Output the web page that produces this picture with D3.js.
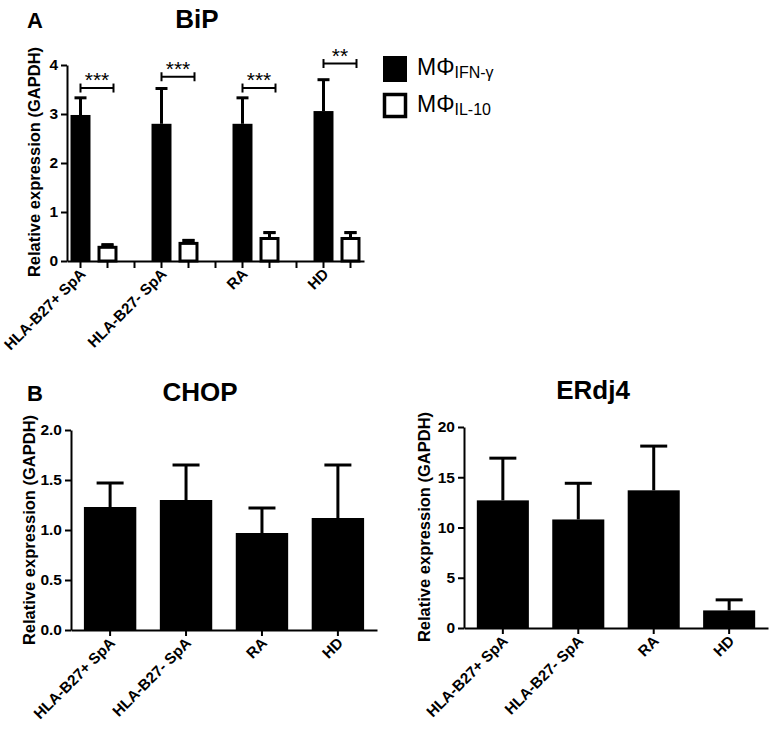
<!DOCTYPE html>
<html>
<head>
<meta charset="utf-8">
<script src="https://cdn.jsdelivr.net/npm/d3@7/dist/d3.min.js"></script>
<style>
  html, body { margin: 0; padding: 0; background: #fff; }
  svg { display: block; font-family: "Liberation Sans", Arial, sans-serif; }
</style>
</head>
<body>
<svg id="chart" width="777" height="736"></svg>
<script>
// ---------- DATA ----------
const categories = ["HLA-B27+ SpA", "HLA-B27- SpA", "RA", "HD"];
const seriesNames = ["IFN-γ", "IL-10"];

const bipIFN = [2.98, 2.80, 2.80, 3.06];
const bipIFNUpper = [3.33, 3.52, 3.33, 3.70];
const bipIL10 = [0.31, 0.39, 0.49, 0.49];
const bipIL10Upper = [0.33, 0.42, 0.58, 0.58];
const bipSig = ["***", "***", "***", "**"];
const bipSigLevel = [3.53, 3.76, 3.53, 4.03];
const bipTicks = [0, 1, 2, 3, 4];

const chopMean = [1.23, 1.30, 0.97, 1.12];
const chopUpper = [1.47, 1.65, 1.22, 1.65];
const chopTicks = [0, 0.5, 1.0, 1.5, 2.0];

const erdj4Mean = [12.7, 10.8, 13.7, 1.75];
const erdj4Upper = [16.9, 14.4, 18.1, 2.8];
const erdj4Ticks = [0, 5, 10, 15, 20];

const yLabel = "Relative expression (GAPDH)";

// ---------- HELPERS ----------
const FONT = '"Liberation Sans", Arial, sans-serif';
const svg = d3.select("#chart");
svg.append("rect").attr("width", 777).attr("height", 736).attr("fill", "#fff");

function styleAxis(g) {
  g.attr("font-family", FONT);
  g.select(".domain").attr("stroke", "#000").attr("stroke-width", 2);
  g.selectAll(".tick line").attr("stroke", "#000").attr("stroke-width", 2);
  g.selectAll(".tick text").attr("fill", "#000")
    .style("font-family", FONT)
    .style("font-weight", "bold").style("font-size", "15.5px");
}

function yAxis(y, x0, ticks, fmt) {
  const g = svg.append("g").attr("transform", `translate(${x0},0)`)
    .call(d3.axisLeft(y).tickValues(ticks).tickFormat(fmt).tickSize(6).tickSizeOuter(0).tickPadding(3));
  styleAxis(g);
  return g;
}

function yTitle(x, yMid) {
  svg.append("text")
    .attr("transform", `translate(${x},${yMid}) rotate(-90)`)
    .attr("text-anchor", "middle")
    .style("font-weight", "bold").style("font-size", "16.5px")
    .text(yLabel);
}

function xLabels(g) {
  g.selectAll(".tick text")
    .attr("text-anchor", "end")
    .attr("transform", "translate(6,14) rotate(-45)")
    .attr("dy", "0").attr("y", 0).attr("x", 0)
    .style("font-size", "15.2px");
}

function title(x, y, t) {
  svg.append("text").attr("x", x).attr("y", y).attr("text-anchor", "middle")
    .style("font-weight", "bold").style("font-size", "26px").text(t);
}
function panelLetter(x, y, t) {
  svg.append("text").attr("x", x).attr("y", y)
    .style("font-weight", "bold").style("font-size", "22px").text(t);
}

// ---------- PANEL A : BiP ----------
panelLetter(27, 28, "A");
title(197, 28, "BiP");

const aLeft = 67, aRight = 364, aTop = 65, aBottom = 261;
const yA = d3.scaleLinear().domain([0, 4]).range([aBottom, aTop]);
const slots = d3.range(11);
const xSlot = d3.scaleBand().domain(slots).range([aLeft, aRight]).padding(0);
const barWA = xSlot.bandwidth() * 0.74;
const slotOf = (g, s) => g * 3 + s;
const cx = (g, s) => xSlot(slotOf(g, s)) + xSlot.bandwidth() / 2;

const bipRows = categories.map((c, i) => ([
  { g: i, s: 0, v: bipIFN[i], up: bipIFNUpper[i] },
  { g: i, s: 1, v: bipIL10[i], up: bipIL10Upper[i] }
])).flat();

const errA = svg.append("g");
bipRows.forEach(d => {
  const x = cx(d.g, d.s);
  errA.append("line").attr("x1", x).attr("x2", x).attr("y1", yA(d.v)).attr("y2", yA(d.up))
    .attr("stroke", "#000").attr("stroke-width", 3);
  errA.append("line").attr("x1", x - 6).attr("x2", x + 6).attr("y1", yA(d.up)).attr("y2", yA(d.up))
    .attr("stroke", "#000").attr("stroke-width", 3);
});

svg.append("g").selectAll("rect").data(bipRows).join("rect")
  .attr("x", d => cx(d.g, d.s) - (d.s === 0 ? barWA / 2 : barWA / 2 - 1.5))
  .attr("width", d => d.s === 0 ? barWA : barWA - 3)
  .attr("y", d => yA(d.v) + (d.s === 0 ? 0 : 1.5))
  .attr("height", d => aBottom - yA(d.v) - (d.s === 0 ? 0 : 1.5))
  .attr("fill", d => d.s === 0 ? "#000" : "#fff")
  .attr("stroke", "#000").attr("stroke-width", d => d.s === 0 ? 0 : 3);

bipRows.filter(d => d.s === 1).forEach(d => {
  const x = cx(d.g, d.s);
  svg.append("line").attr("x1", x - 6).attr("x2", x + 6).attr("y1", yA(d.up)).attr("y2", yA(d.up))
    .attr("stroke", "#000").attr("stroke-width", 3);
  svg.append("line").attr("x1", x).attr("x2", x).attr("y1", yA(d.v)).attr("y2", yA(d.up))
    .attr("stroke", "#000").attr("stroke-width", 3);
});

categories.forEach((c, i) => {
  const x1 = cx(i, 0), x2 = cx(i, 1) + 6, y = yA(bipSigLevel[i]);
  const g = svg.append("g");
  g.append("line").attr("x1", x1).attr("x2", x2).attr("y1", y).attr("y2", y).attr("stroke", "#000").attr("stroke-width", 2);
  g.append("line").attr("x1", x1).attr("x2", x1).attr("y1", y - 4.5).attr("y2", y + 4.5).attr("stroke", "#000").attr("stroke-width", 2);
  g.append("line").attr("x1", x2).attr("x2", x2).attr("y1", y - 4.5).attr("y2", y + 4.5).attr("stroke", "#000").attr("stroke-width", 2);
  g.append("text").attr("x", (x1 + x2) / 2).attr("y", y - 1).attr("text-anchor", "middle")
    .style("font-size", "21px").text(bipSig[i]);
});

yAxis(yA, aLeft, bipTicks, d3.format("d"));
const xAxA = svg.append("g").attr("transform", `translate(0,${aBottom})`)
  .call(d3.axisBottom(xSlot).tickSize(7).tickSizeOuter(0)
    .tickFormat(s => s % 3 === 0 ? categories[s / 3] : ""));
styleAxis(xAxA);
xLabels(xAxA);
yTitle(40, 162);

// legend
const legend = svg.append("g");
const legY = [56, 93];
seriesNames.forEach((n, i) => {
  legend.append("rect").attr("x", i === 0 ? 383 : 384.5).attr("y", legY[i] + (i === 0 ? 0 : 1.5))
    .attr("width", i === 0 ? 24 : 21).attr("height", i === 0 ? 26 : 22)
    .attr("fill", i === 0 ? "#000" : "#fff").attr("stroke", "#000").attr("stroke-width", i === 0 ? 0 : 3.5);
  const t = legend.append("text").attr("x", 417).attr("y", legY[i] + 19).style("font-size", "23px");
  t.append("tspan").text("MΦ");
  t.append("tspan").attr("dy", 3).style("font-size", "16px").text(n);
});

// ---------- PANEL B : CHOP ----------
panelLetter(27, 401, "B");
title(200, 401, "CHOP");

const bTop = 430, bBottom = 630;
const xB = d3.scaleBand().domain(categories).range([71, 377]).paddingInner(0.31).paddingOuter(0.17);
const yB = d3.scaleLinear().domain([0, 2]).range([bBottom, bTop]);

function barPanel(xS, yS, means, uppers, bottom) {
  const g = svg.append("g");
  categories.forEach((c, i) => {
    const x = xS(c) + xS.bandwidth() / 2;
    g.append("line").attr("x1", x).attr("x2", x).attr("y1", yS(means[i])).attr("y2", yS(uppers[i]))
      .attr("stroke", "#000").attr("stroke-width", 3);
    g.append("line").attr("x1", x - 13.5).attr("x2", x + 13.5).attr("y1", yS(uppers[i])).attr("y2", yS(uppers[i]))
      .attr("stroke", "#000").attr("stroke-width", 3);
  });
  g.selectAll("rect").data(categories).join("rect")
    .attr("x", c => xS(c)).attr("width", xS.bandwidth())
    .attr("y", (c, i) => yS(means[i])).attr("height", (c, i) => bottom - yS(means[i]))
    .attr("fill", "#000");
}

barPanel(xB, yB, chopMean, chopUpper, bBottom);
yAxis(yB, 71, chopTicks, d3.format(".1f"));
const xAxB = svg.append("g").attr("transform", `translate(0,${bBottom})`)
  .call(d3.axisBottom(xB).tickSize(6).tickSizeOuter(0));
styleAxis(xAxB);
xLabels(xAxB);
yTitle(35, 530);

// ---------- PANEL B : ERdj4 ----------
title(593, 399, "ERdj4");
const cTop = 427, cBottom = 628;
const xC = d3.scaleBand().domain(categories).range([464, 768]).paddingInner(0.31).paddingOuter(0.17);
const yC = d3.scaleLinear().domain([0, 20]).range([cBottom, cTop]);
barPanel(xC, yC, erdj4Mean, erdj4Upper, cBottom);
yAxis(yC, 464, erdj4Ticks, d3.format("d"));
const xAxC = svg.append("g").attr("transform", `translate(0,${cBottom})`)
  .call(d3.axisBottom(xC).tickSize(6).tickSizeOuter(0));
styleAxis(xAxC);
xLabels(xAxC);
yTitle(430, 527);
</script>
</body>
</html>
